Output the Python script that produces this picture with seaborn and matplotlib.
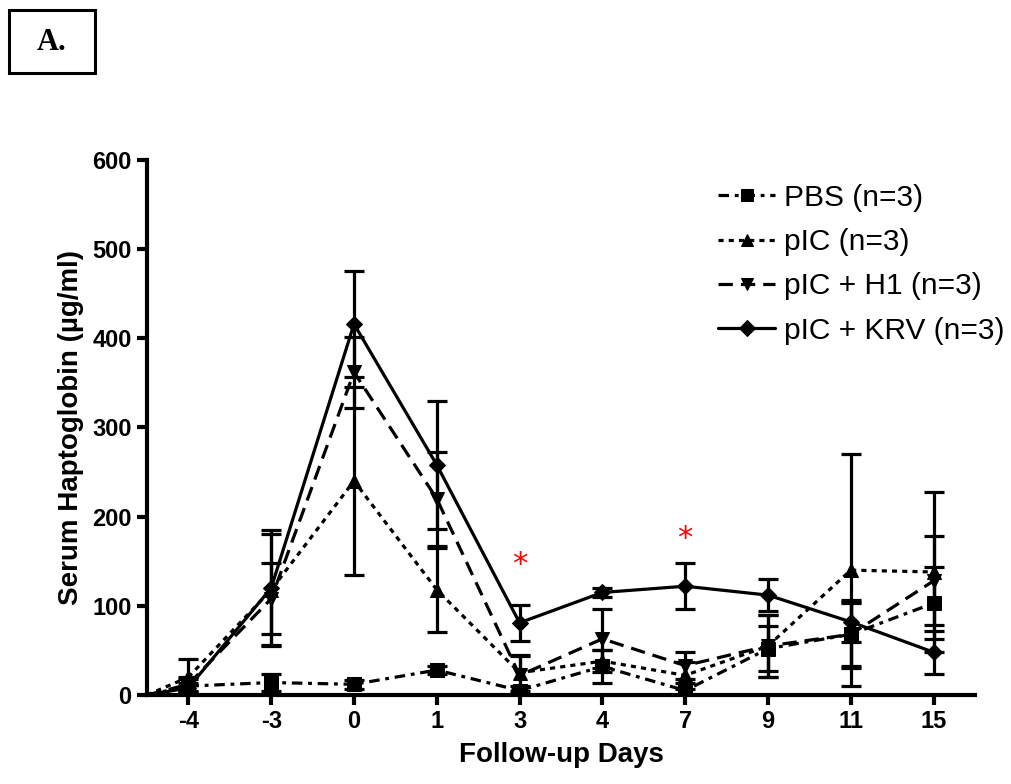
import numpy as np
import matplotlib
matplotlib.use("Agg")
import matplotlib.pyplot as plt
import seaborn as sns

days = ['-4', '-3', '0', '1', '3', '4', '7', '9', '11', '15']
baseline = 0

pbs = [10, 14, 12, 28, 5, 32, 5, 52, 68, 103]
pbs_err = [8, 10, 5, 4, 5, 18, 8, 25, 35, 40]
pic = [20, 118, 240, 118, 25, 38, 22, 55, 140, 138]
pic_err = [20, 62, 105, 47, 20, 12, 15, 35, 130, 90]
h1 = [12, 108, 362, 220, 22, 63, 33, 55, 68, 128]
h1_err = [8, 40, 40, 53, 22, 33, 15, 35, 38, 50]
krv = [8, 120, 416, 258, 81, 115, 122, 112, 82, 48]
krv_err = [5, 65, 59, 72, 20, 5, 26, 18, 22, 24]

labels = ['PBS (n=3)', 'pIC (n=3)', 'pIC + H1 (n=3)', 'pIC + KRV (n=3)']
star_days = ['3', '7']
star_vals = [146, 175]

sns.set_theme(style='ticks')
plt.rcParams['font.family'] = ['Liberation Sans', 'DejaVu Sans']
plt.rcParams['text.color'] = 'black'
plt.rcParams['axes.labelcolor'] = 'black'

fig = plt.figure(figsize=(10.11, 7.84), dpi=100)
ax = fig.add_axes([0.1454, 0.1135, 0.819, 0.6825])

xpos = np.arange(len(days))
series = [pbs, pic, h1, krv]
errs = [pbs_err, pic_err, h1_err, krv_err]
markers = ['s', '^', 'v', 'D']
msizes = [10, 10, 10, 8]
dashes = [(3.3, 1.8, 1.2, 1.8), (1.6, 1.6), (4.5, 2.5), None]
lw = 2.3

for vals, err, m, ms, ds, lab in zip(series, errs, markers, msizes, dashes, labels):
    ax.errorbar(xpos, vals, yerr=err, fmt='none', ecolor='black',
                elinewidth=lw, capsize=7, capthick=lw, zorder=2)
    # segment from axis origin to first point
    seg, = ax.plot([-0.5, xpos[0]], [baseline, vals[0]], color='black', lw=lw, zorder=3)
    if ds is not None:
        seg.set_dashes(ds)
    sns.lineplot(x=xpos, y=vals, ax=ax, color='black', marker=m,
                 markersize=ms, markeredgecolor='black', linewidth=lw,
                 label=lab, zorder=4)
    l = ax.lines[-1]
    if ds is not None:
        l.set_dashes(ds)

for d, v in zip(star_days, star_vals):
    ax.text(days.index(d), v, '*', color='red', fontsize=22, ha='center',
            va='center', family='DejaVu Sans')

ax.set_xlim(-0.5, 9.5)
ax.set_ylim(0, 600)
ax.set_yticks([0, 100, 200, 300, 400, 500, 600])
ax.set_xticks(xpos)
ax.set_xticklabels(days)
for s in ['top', 'right']:
    ax.spines[s].set_visible(False)
for s in ['left', 'bottom']:
    ax.spines[s].set_linewidth(3)
    ax.spines[s].set_color('black')
ax.tick_params(axis='both', direction='out', length=7, width=3, colors='black',
               labelsize=17, pad=4)
for t in ax.get_xticklabels() + ax.get_yticklabels():
    t.set_fontweight('bold')
ax.set_xlabel('Follow-up Days', fontsize=20, fontweight='bold', labelpad=6)
ax.set_ylabel('Serum Haptoglobin (\u00b5g/ml)', fontsize=20, fontweight='bold', labelpad=6)

handles, labs = ax.get_legend_handles_labels()
leg = ax.legend(handles, labs, loc='upper right', bbox_to_anchor=(1.05, 0.978),
                frameon=False, fontsize=21.5, handlelength=1.9, labelspacing=0.55,
                handletextpad=0.3, borderaxespad=0)
for h in leg.legend_handles:
    h.set_markersize(8)

# panel label box
fig.text(52 / 1011, 1 - 43 / 784, 'A.', fontsize=22, fontweight='bold',
         family='Liberation Serif', ha='center', va='center')
rect = plt.Rectangle((9 / 1011, 1 - 73 / 784), 86 / 1011, 63 / 784,
                     transform=fig.transFigure, fill=False, lw=2.2,
                     edgecolor='black')
fig.add_artist(rect)

fig.savefig('out.png', dpi=100, facecolor='white')
